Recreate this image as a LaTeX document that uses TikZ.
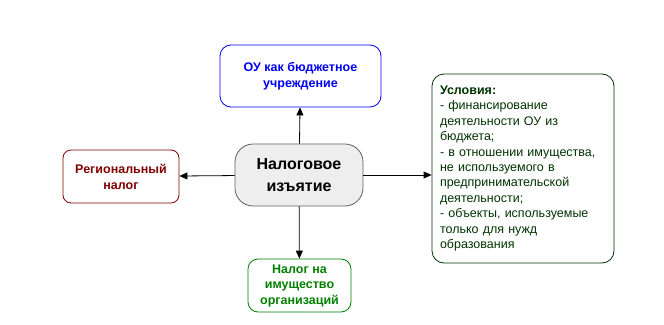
\documentclass[tikz,border=0pt]{standalone}
\usepackage{fontspec}
\setmainfont{Liberation Sans}
\usepackage{xcolor}
\usetikzlibrary{arrows.meta, positioning}
\definecolor{ouBlue}{HTML}{0000F0}
\definecolor{regRed}{HTML}{800000}
\definecolor{propGreen}{HTML}{008000}
\definecolor{condGreen}{HTML}{003300}
\definecolor{centerGray}{HTML}{EEEEEE}

\begin{document}
\begin{tikzpicture}[x=1pt, y=-1pt,
    box/.style={draw, thick, align=center, font=\fontsize{12.5}{16}\selectfont\bfseries, inner sep=0pt},
    link/.style={-{Triangle[length=8pt, width=7pt]}, thick},
]
    \useasboundingbox (0,0) rectangle (664,324);

    \node[box, draw=centerGray!40!black, fill=centerGray, rounded corners=18pt, minimum width=128pt, minimum height=62pt,
          font=\fontsize{16}{22}\selectfont\bfseries] (tax) at (299,175) {Налоговое\\изъятие};
    \node[box, draw=ouBlue, text=ouBlue, rounded corners=11pt, minimum width=161pt, minimum height=62pt] (ou) at (300.5,76) {ОУ как бюджетное\\учреждение};
    \node[box, draw=regRed, text=regRed, rounded corners=8pt, minimum width=116pt, minimum height=53pt] (reg) at (121,176.5) {Региональный\\налог};
    \node[box, draw=propGreen, text=propGreen, rounded corners=10pt, minimum width=103pt, minimum height=53pt,
          font=\fontsize{12.5}{15.5}\selectfont\bfseries] (prop) at (299.5,285.5) {Налог на\\имущество\\организаций};
    \node[box, draw=condGreen, text=condGreen, rounded corners=12pt, minimum width=182pt, minimum height=189pt,
          align=left, font=\fontsize{12.5}{15.4}\selectfont, text width=166pt] (cond) at (523,168.5) {\textbf{Условия:}\\
        - финансирование\\деятельности ОУ из\\бюджета;\\
        - в отношении имущества,\\не используемого в\\предпринимательской\\деятельности;\\
        - объекты, используемые\\только для нужд\\образования};

    \draw[link] (tax) -- (ou);
    \draw[link] (tax) -- (reg);
    \draw[link] (tax) -- (tax -| cond.west);
    \draw[link] (tax) -- (prop);
\end{tikzpicture}
\end{document}
